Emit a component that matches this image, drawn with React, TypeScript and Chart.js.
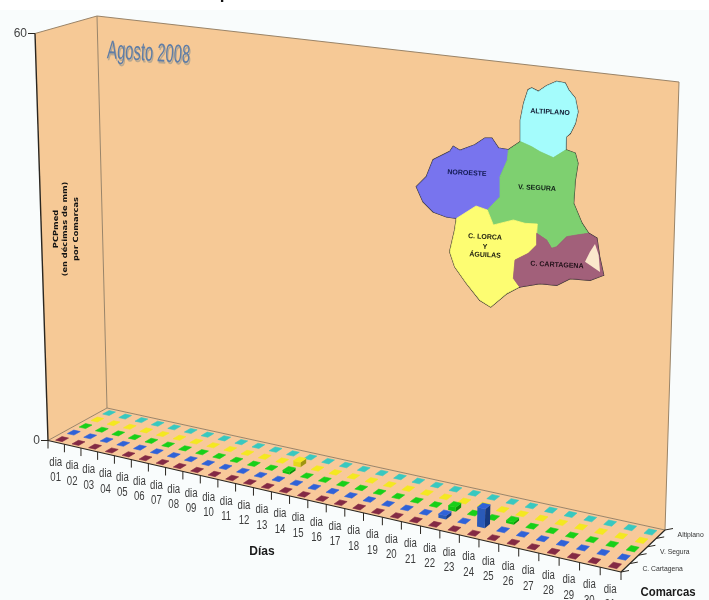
import React, { useEffect, useRef } from "react";
import { Chart, BarController, BarElement, CategoryScale, LinearScale } from "chart.js";

const DAYS = ["01","02","03","04","05","06","07","08","09","10","11","12","13","14","15","16","17","18","19","20","21","22","23","24","25","26","27","28","29","30","31"];
const COMARCAS = ["C. Cartagena", "Noroeste", "V. Segura", "C. Lorca y Águilas", "Altiplano"];
const COMARCA_TICKS = ["C. Cartagena", "V. Segura", "Altiplano"];
const Y_TICKS = [0, 60];

const cartagena = [0,0,0,0,0,0,0,0,0,0,0,0,0,0,0,0,0,0,0,0,0,0,0,0,0,0,0,0,0,0,0];
const noroeste = [0,0,0,0,0,0,0,0,0,0,0,0,0,0,0,0,0,0,0,0,0,0.5,0,2.6,0,0,0,0,0,0,0];
const segura = [0,0,0,0,0,0,0,0,0,0,0,0,0.35,0,0,0,0,0,0,0,0,0.6,0,0,0.35,0,0,0,0,0,0];
const lorca = [0,0,0,0,0,0,0,0,0,0,0,0,0.7,0,0,0,0,0,0,0,0,0,0,0,0,0,0,0,0,0,0];
const altiplano = [0,0,0,0,0,0,0,0,0,0,0,0,0,0,0,0,0,0,0,0,0,0,0,0,0,0,0,0,0,0,0];

const SERIES = [cartagena, noroeste, segura, lorca, altiplano];
const COLORS = ["#842a44", "#2a5ab8", "#12c212", "#e6d81e", "#38c8c0"];
const SIDE_COLORS = ["#5e1c30", "#173a80", "#0a900a", "#a09410", "#1c8a82"];
const TOP_COLORS = ["#842a44", "#2f62d8", "#18d018", "#f4e820", "#38c8c0"];

type P = [number, number];
const lerp = (a: P, b: P, t: number): P => [a[0] + (b[0] - a[0]) * t, a[1] + (b[1] - a[1]) * t];

// Corners of the drawn box on the canvas
const FL: P = [48, 440.5], FR: P = [621, 572], BR: P = [665, 530], BL: P = [107, 408];
const UP_FL: P = [-13, -407], UP_BL: P = [-10, -392], UP_BR: P = [14, -448], UP_FR: P = [17, -463];
const STRETCH = 1.13;
const warp = (u: number) => u / (STRETCH - (STRETCH - 1) * u);

function project(u: number, v: number, h: number): P {
  const w = warp(u);
  const f = lerp(lerp(FL, FR, w), lerp(BL, BR, w), v);
  const up = lerp(lerp(UP_FL, UP_FR, w), lerp(UP_BL, UP_BR, w), v);
  return [f[0] + up[0] * h, f[1] + up[1] * h];
}

function poly(ctx: CanvasRenderingContext2D, pts: P[], fill?: string, stroke?: string, lw = 1) {
  ctx.beginPath();
  pts.forEach((p, i) => (i ? ctx.lineTo(p[0], p[1]) : ctx.moveTo(p[0], p[1])));
  ctx.closePath();
  if (fill) { ctx.fillStyle = fill; ctx.fill(); }
  if (stroke) { ctx.strokeStyle = stroke; ctx.lineWidth = lw; ctx.stroke(); }
}
function line(ctx: CanvasRenderingContext2D, a: P, b: P, color: string, lw = 1) {
  ctx.beginPath(); ctx.moveTo(a[0], a[1]); ctx.lineTo(b[0], b[1]);
  ctx.strokeStyle = color; ctx.lineWidth = lw; ctx.stroke();
}
function text(ctx: CanvasRenderingContext2D, s: string, x: number, y: number, font: string, color: string, sx = 1, rot = 0) {
  ctx.save();
  ctx.translate(x, y); ctx.rotate(rot); ctx.scale(sx, 1);
  ctx.font = font; ctx.fillStyle = color; ctx.textAlign = "center"; ctx.textBaseline = "middle";
  ctx.fillText(s, 0, 0);
  ctx.restore();
}

class Bar3DController extends BarController {
  static id = "bar3d";
  static defaults = BarController.defaults;
  static overrides = BarController.overrides;
  draw() {
    const chart = this.chart as any;
    const ctx = chart.ctx as CanvasRenderingContext2D;
    const a = chart.chartArea;
    const z = chart.scales.z;
    const row = this.index;
    const zp = z.getPixelForValue(row);
    const zStep = Math.abs(z.getPixelForValue(1) - z.getPixelForValue(0));
    const v0 = (a.bottom - zp - zStep * 0.27) / a.height;
    const v1 = (a.bottom - zp + zStep * 0.27) / a.height;
    this.getMeta().data.forEach((el: any) => {
      const u0 = (el.x - el.width / 2 - a.left) / a.width;
      const u1 = (el.x + el.width / 2 - a.left) / a.width;
      const h = (a.bottom - el.y) / a.height;
      const pb = (u: number, v: number) => project(u, v, 0);
      const pt = (u: number, v: number) => project(u, v, h);
      if (h > 0) {
        poly(ctx, [pb(u1, v0), pb(u1, v1), pt(u1, v1), pt(u1, v0)], SIDE_COLORS[row]);
        poly(ctx, [pb(u0, v0), pb(u1, v0), pt(u1, v0), pt(u0, v0)], COLORS[row]);
      }
      // a 0.6px outline in the mark's colour keeps zero-height marks as solid blobs
      poly(ctx, [pt(u0, v0), pt(u1, v0), pt(u1, v1), pt(u0, v1)], TOP_COLORS[row], TOP_COLORS[row], 0.6);
    });
  }
}

const boxPlugin = {
  id: "box3d",
  beforeDatasetsDraw(chart: any) {
    const ctx = chart.ctx as CanvasRenderingContext2D;
    const a = chart.chartArea;
    const { x, y, z } = chart.scales;
    const WALL = "#f6c996", EDGE = "#9a8468", AXIS = "#2a2620";

    ctx.save();
    ctx.fillStyle = "#ffffff"; ctx.fillRect(0, 0, 709, 600);
    ctx.fillStyle = "#f9fcfc"; ctx.fillRect(0, 10, 709, 590);
    text(ctx, "p", 225, -6, "bold 17px 'Liberation Sans'", "#111");

    const hTop = 1;
    // walls and floor
    poly(ctx, [project(0, 0, 0), project(0, 1, 0), project(0, 1, hTop), project(0, 0, hTop)], WALL);
    poly(ctx, [project(0, 1, 0), project(1, 1, 0), project(1, 1, hTop), project(0, 1, hTop)], WALL);
    poly(ctx, [project(0, 0, 0), project(1, 0, 0), project(1, 1, 0), project(0, 1, 0)], "#f8c99a");
    line(ctx, project(0, 0, hTop), project(0, 1, hTop), EDGE, 1);
    line(ctx, project(0, 1, hTop), project(1, 1, hTop), EDGE, 1.2);
    line(ctx, project(1, 1, hTop), project(1, 1, 0), EDGE, 1);
    line(ctx, project(0, 1, 0), project(0, 1, hTop), EDGE, 1);
    line(ctx, project(0, 1, 0), project(1, 1, 0), EDGE, 1);
    line(ctx, project(0, 0, 0), project(0, 1, 0), EDGE, 1);
    line(ctx, project(0, 0, 0), project(0, 0, hTop), AXIS, 1.4);
    line(ctx, project(0, 0, 0), project(1, 0, 0), AXIS, 1.2);
    line(ctx, project(1, 0, 0), project(1, 1, 0), AXIS, 1.2);

    // value axis
    Y_TICKS.forEach((val) => {
      const h = (a.bottom - y.getPixelForValue(val)) / a.height;
      const p = project(0, 0, h);
      line(ctx, [p[0] - 7, p[1]], p, AXIS, 1);
      ctx.save();
      ctx.textAlign = "right"; ctx.textBaseline = "middle";
      ctx.font = "12px 'Liberation Sans'"; ctx.fillStyle = "#444";
      ctx.fillText(String(val), p[0] - 8, p[1]);
      ctx.restore();
    });

    // day axis
    const n = x.getLabels().length;
    const edge = (x.getPixelForValue(1) - x.getPixelForValue(0)) / 2;
    for (let i = 0; i <= n; i++) {
      const px = i < n ? x.getPixelForValue(i) - edge : x.getPixelForValue(n - 1) + edge;
      const p = project((px - a.left) / a.width, 0, 0);
      line(ctx, p, [p[0], p[1] + 8], AXIS, 1);
    }
    x.getLabels().forEach((lab: string[], i: number) => {
      const p = project((x.getPixelForValue(i) - a.left) / a.width, 0, 0);
      text(ctx, lab[0], p[0] - 0.5, p[1] + 20, "12px 'Liberation Sans'", "#3c3c3c", 0.8);
      text(ctx, lab[1], p[0] - 0.5, p[1] + 35.5, "12px 'Liberation Sans'", "#3c3c3c", 0.8);
    });
    text(ctx, "Días", 262, 552, "bold 12px 'Liberation Sans'", "#1a1a1a");

    // comarca axis
    const m = z.getLabels().length;
    for (let i = 0; i <= m; i++) {
      const p = project(1, i / m, 0);
      line(ctx, p, [p[0] + 8, p[1] - 1.5], AXIS, 1);
    }
    COMARCA_TICKS.forEach((name) => {
      const pix = z.getPixelForValue(z.getLabels().indexOf(name));
      const p = project(1, (a.bottom - pix) / a.height, 0);
      ctx.save();
      ctx.translate(p[0] + 17, p[1] + 1); ctx.scale(0.85, 1);
      ctx.font = "8px 'Liberation Sans'"; ctx.fillStyle = "#333"; ctx.textAlign = "left"; ctx.textBaseline = "middle";
      ctx.fillText(name, 0, 0);
      ctx.restore();
    });
    ctx.save();
    ctx.font = "bold 12px 'Liberation Sans'"; ctx.fillStyle = "#1a1a1a"; ctx.textAlign = "center"; ctx.textBaseline = "middle";
    ctx.translate(668, 593); ctx.scale(0.95, 1);
    ctx.fillText("Comarcas", 0, 0);
    ctx.restore();

    // wall annotations
    ctx.save();
    ctx.translate(108, 38); ctx.rotate(0.06);
    ctx.font = "26px 'Liberation Sans'"; ctx.textAlign = "left"; ctx.textBaseline = "top";
    ctx.scale(83 / ctx.measureText("Agosto 2008").width, 1);
    ctx.fillStyle = "#b8a890"; ctx.fillText("Agosto 2008", 2, 2);
    ctx.fillStyle = "#5f7da6"; ctx.fillText("Agosto 2008", 0, 0);
    ctx.restore();

    ctx.save();
    ctx.translate(66, 229); ctx.rotate(-Math.PI / 2);
    ctx.font = "bold 7px 'DejaVu Sans'"; ctx.fillStyle = "#111"; ctx.textAlign = "center"; ctx.textBaseline = "middle";
    ctx.scale(1.18, 1);
    ctx.fillText("PCPmed", 0, -10);
    ctx.fillText("(en décimas de mm)", 0, -1);
    ctx.fillText("por Comarcas", 0, 10);
    ctx.restore();

    // region map
    const M = (pts: number[][]): P[] => pts.map((q) => [400 + q[0] / 3, 70 + q[1] / 3]);
    const regions: [P[], string][] = [
      [M([[362,215],[362,150],[372,100],[385,60],[395,55],[415,65],[440,48],[470,35],[495,40],[505,60],[525,85],[533,125],[525,160],[510,190],[498,200],[497,240],[460,263],[420,245],[395,230]]), "#a4fcfc"],
      [M([[325,240],[322,270],[300,320],[300,380],[262,420],[228,408],[175,445],[140,440],[100,425],[70,395],[50,350],[80,320],[100,270],[150,245],[160,230],[180,242],[225,225],[255,205],[275,205],[295,235]]), "#7874ee"],
      [M([[362,215],[395,230],[420,245],[460,263],[497,240],[525,250],[533,280],[525,330],[520,400],[545,460],[565,490],[530,495],[500,500],[470,530],[455,535],[440,510],[410,490],[412,462],[375,460],[340,450],[280,465],[262,420],[300,380],[300,320],[322,270],[325,240]]), "#7ed070"],
      [M([[262,420],[280,465],[340,450],[375,460],[412,462],[410,490],[410,525],[385,550],[345,570],[340,625],[358,650],[320,670],[272,710],[240,690],[200,640],[165,590],[150,545],[165,480],[170,445],[228,408]]), "#fdfd72"],
      [M([[565,490],[590,505],[598,560],[610,615],[570,630],[510,625],[470,645],[420,640],[358,650],[340,625],[345,570],[385,550],[410,525],[410,490],[440,510],[455,535],[470,530],[500,500],[530,495]]), "#a2607a"],
    ];
    regions.forEach(([r]) => poly(ctx, r, undefined, "#2a2a2a", 1.8));
    regions.forEach(([r, c]) => poly(ctx, r, c, c, 0.8));
    poly(ctx, M([[585,522],[596,555],[600,606],[555,575],[570,545]]), "#fbe8cc");
    const mapFont = "bold 7px 'Liberation Sans'";
    const rot = 0.05;
    text(ctx, "ALTIPLANO", 550, 112, mapFont, "#101830", 1, rot);
    text(ctx, "NOROESTE", 467, 173, mapFont, "#101850", 1, rot);
    text(ctx, "V. SEGURA", 537, 188, mapFont, "#102018", 1, rot);
    text(ctx, "C. LORCA", 485, 237, mapFont, "#202010", 1, rot);
    text(ctx, "Y", 485, 247, mapFont, "#202010", 1, rot);
    text(ctx, "ÁGUILAS", 485, 255, mapFont, "#202010", 1, rot);
    text(ctx, "C. CARTAGENA", 557, 265, mapFont, "#201018", 1, rot);
    ctx.restore();
  },
};

Chart.register(Bar3DController, BarElement, CategoryScale, LinearScale);

export default function App() {
  const ref = useRef<HTMLCanvasElement>(null);
  useEffect(() => {
    const chart = new Chart(ref.current as HTMLCanvasElement, {
      type: "bar3d" as any,
      data: {
        labels: DAYS.map((d) => ["dia", d]) as any,
        datasets: COMARCAS.map((name, i) => ({
          label: name,
          data: SERIES[i],
          grouped: false,
          barPercentage: 0.4,
          categoryPercentage: 1,
          backgroundColor: COLORS[i],
        })) as any,
      },
      options: {
        animation: false,
        responsive: false,
        devicePixelRatio: 1,
        layout: { padding: 0 },
        plugins: { legend: { display: false }, tooltip: { enabled: false } } as any,
        scales: {
          x: { type: "category", display: false, offset: true },
          y: { type: "linear", display: false, min: 0, max: 60, ticks: { stepSize: 60 } },
          z: { type: "category", axis: "y", position: "right", display: false, offset: true, reverse: true, labels: COMARCAS },
        } as any,
      },
      plugins: [boxPlugin],
    });
    return () => chart.destroy();
  }, []);
  return (
    <div style={{ position: "absolute", left: 0, top: 0, width: 709, height: 600, overflow: "hidden" }}>
      <canvas ref={ref} width={709} height={600} style={{ display: "block" }} />
    </div>
  );
}
